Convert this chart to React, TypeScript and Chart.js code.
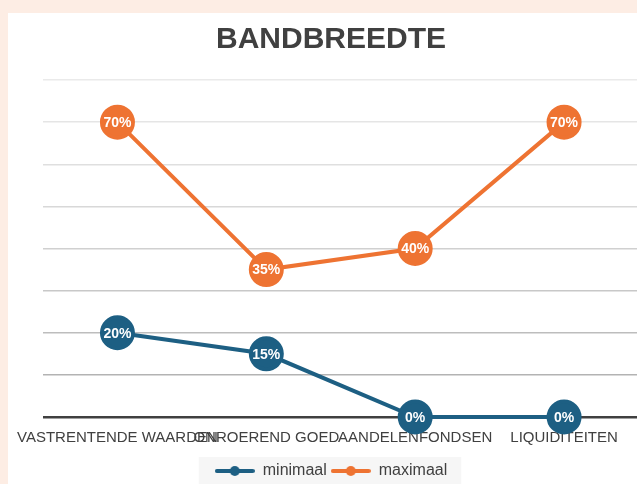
import React, { useEffect, useRef } from "react";
import { Chart, registerables } from "chart.js";

Chart.register(...registerables);

const categories = ["VASTRENTENDE WAARDEN", "ONROEREND GOED", "AANDELENFONDSEN", "LIQUIDITEITEN"];
const minimaal = [20, 15, 0, 0];
const maximaal = [70, 35, 40, 70];
const seriesNames = ["minimaal", "maximaal"];
const titleText = "BANDBREEDTE";

const BLUE = "#1D5F83";
const ORANGE = "#EE7332";
const TEXT = "#404040";

function legendSymbol(color: string): HTMLCanvasElement {
  const c = document.createElement("canvas");
  c.width = 40;
  c.height = 12;
  const ctx = c.getContext("2d")!;
  ctx.strokeStyle = color;
  ctx.lineWidth = 4;
  ctx.lineCap = "round";
  ctx.beginPath();
  ctx.moveTo(2, 6);
  ctx.lineTo(38, 6);
  ctx.stroke();
  ctx.fillStyle = color;
  ctx.beginPath();
  ctx.arc(20, 6, 5, 0, Math.PI * 2);
  ctx.fill();
  return c;
}

const gridColors: Record<number, string> = {
  0: "#404040",
  10: "#b3b3b3",
  20: "#bdbdbd",
  30: "#c8c8c8",
  40: "#d0d0d0",
  50: "#d8d8d8",
  60: "#dfdfdf",
  70: "#e5e5e5",
  80: "#eaeaea",
};

const labelPlugin = {
  id: "pointLabels",
  afterDatasetsDraw(chart: any) {
    const ctx = chart.ctx;
    ctx.save();
    ctx.font = "bold 14px 'Liberation Sans', Arial, sans-serif";
    ctx.fillStyle = "#ffffff";
    ctx.textAlign = "center";
    ctx.textBaseline = "middle";
    chart.data.datasets.forEach((ds: any, i: number) => {
      const meta = chart.getDatasetMeta(i);
      meta.data.forEach((pt: any, j: number) => {
        ctx.fillText(`${ds.data[j]}%`, pt.x, pt.y + 1);
      });
    });
    ctx.restore();
  },
};

const legendBg = {
  id: "legendBg",
  beforeDraw(chart: any) {
    const lg = chart.legend;
    if (!lg || !lg.legendHitBoxes || !lg.legendHitBoxes.length) return;
    const boxes = lg.legendHitBoxes;
    const l = Math.min(...boxes.map((b: any) => b.left)) - 16;
    const r = Math.max(...boxes.map((b: any) => b.left + b.width)) + 14;
    const t = Math.min(...boxes.map((b: any) => b.top)) - 6;
    const ctx = chart.ctx;
    ctx.save();
    ctx.fillStyle = "#f6f6f6";
    ctx.fillRect(l, t, r - l, 60);
    ctx.restore();
  },
};

export default function App() {
  const ref = useRef<HTMLCanvasElement | null>(null);
  useEffect(() => {
    if (!ref.current) return;
    const chart = new Chart(ref.current, {
      type: "line",
      data: {
        labels: categories,
        datasets: [
          {
            label: seriesNames[0],
            data: minimaal,
            borderColor: BLUE,
            backgroundColor: BLUE,
            pointBackgroundColor: BLUE,
            pointBorderColor: BLUE,
            borderWidth: 4,
            pointRadius: 15.5,
            pointHoverRadius: 15.5,
            pointStyle: "circle",
            tension: 0,
            clip: false,
          } as any,
          {
            label: seriesNames[1],
            data: maximaal,
            borderColor: ORANGE,
            backgroundColor: ORANGE,
            pointBackgroundColor: ORANGE,
            pointBorderColor: ORANGE,
            borderWidth: 4,
            pointRadius: 15.5,
            pointHoverRadius: 15.5,
            pointStyle: "circle",
            tension: 0,
            clip: false,
          } as any,
        ],
      },
      options: {
        animation: false,
        responsive: false,
        maintainAspectRatio: false,
        layout: { padding: { left: 12, right: 16, top: 0, bottom: 14 } },
        scales: {
          x: {
            offset: true,
            grid: { display: false, drawTicks: false },
            border: { display: false },
            afterFit: (s: any) => {
              s.paddingLeft = 0;
              s.paddingRight = 0;
            },
            ticks: {
              autoSkip: false,
              maxRotation: 0,
              minRotation: 0,
              padding: 12,
              color: TEXT,
              font: { size: 15, family: "'Liberation Sans', Arial, sans-serif" },
            },
          },
          y: {
            min: 0,
            max: 80,
            afterFit: (s: any) => {
              s.width = 23;
            },
            ticks: { display: false, stepSize: 10 },
            border: { display: false },
            grid: {
              drawTicks: false,
              color: (c: any) => gridColors[c.tick?.value] ?? "#d9d9d9",
              lineWidth: (c: any) => (c.tick?.value === 0 ? 2.5 : 1.5),
            },
          },
        },
        plugins: {
          title: {
            display: true,
            text: titleText,
            color: TEXT,
            font: { size: 30, weight: "bold", family: "'Liberation Sans', Arial, sans-serif" },
            padding: { top: 9, bottom: 22 },
          },
          legend: {
            position: "bottom",
            labels: {
              usePointStyle: true,
              pointStyleWidth: 40,
              color: TEXT,
              padding: 4,
              font: { size: 16, family: "'Liberation Sans', Arial, sans-serif" },
              generateLabels: (ch: any) =>
                ch.data.datasets.map((ds: any, i: number) => ({
                  text: ds.label,
                  pointStyle: legendSymbol(ds.borderColor),
                  fillStyle: ds.borderColor,
                  strokeStyle: ds.borderColor,
                  lineWidth: 0,
                  hidden: false,
                  datasetIndex: i,
                  fontColor: TEXT,
                })),
            },
          },
          tooltip: { enabled: false },
        },
      },
      plugins: [labelPlugin, legendBg],
    });
    return () => chart.destroy();
  }, []);

  return (
    <div
      style={{
        position: "fixed",
        left: 0,
        top: 0,
        width: 637,
        height: 484,
        overflow: "hidden",
        background: "#FDEDE4",
      }}
    >
      <div
        style={{
          position: "absolute",
          left: 8,
          top: 13,
          width: 650,
          height: 490,
          background: "#ffffff",
        }}
      >
        <canvas ref={ref} width={650} height={490} style={{ display: "block", width: 650, height: 490 }} />
      </div>
    </div>
  );
}
